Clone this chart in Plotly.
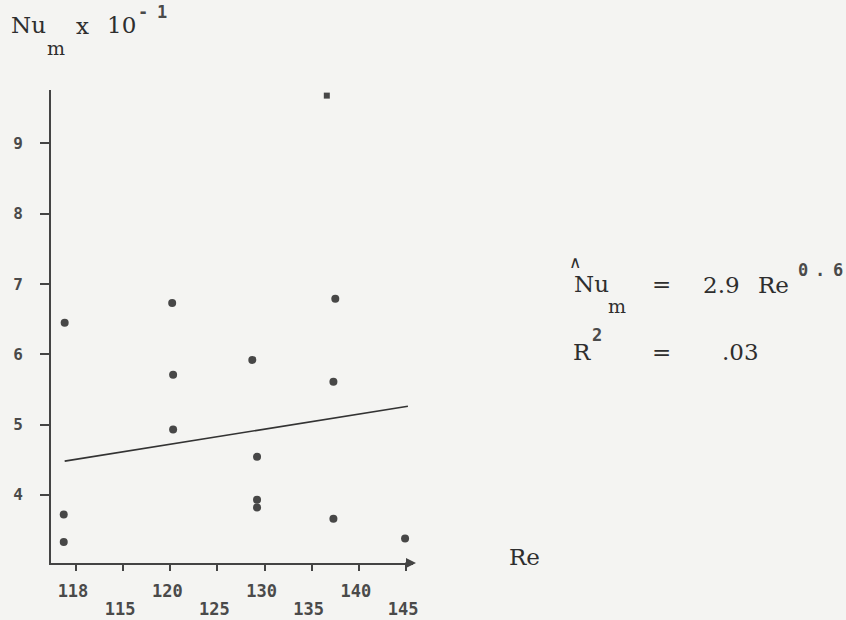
import plotly.graph_objects as go

# ---------------- data ----------------
re_points = [108.8, 108.7, 108.7, 120.2, 120.3, 120.3, 128.7, 129.2, 129.2, 129.2,
             137.5, 137.3, 137.3, 144.9]
nu_points = [6.45, 3.72, 3.33, 6.73, 5.71, 4.93, 5.92, 4.54, 3.93, 3.82,
             6.79, 5.61, 3.66, 3.38]
re_outlier = [136.6]
nu_outlier = [9.68]
fit_re = [108.8, 145.2]
fit_nu = [4.48, 5.26]
x_tick_values = [110, 115, 120, 125, 130, 135, 140, 145]
x_tick_labels = ["118", "115", "120", "125", "130", "135", "140", "145"]
y_tick_values = [4, 5, 6, 7, 8, 9]
y_tick_labels = ["4", "5", "6", "7", "8", "9"]

# ---------------- styling ----------------
BG = "#f4f4f2"
INK = "#2e2e2e"
DOT = "#4a4a4a"
AX = "#444444"
SERIF = "DejaVu Serif"
MONO = "DejaVu Sans Mono"

L, R, T, B = 51, 413, 90, 563  # plot area in pixels
W, H = 846, 620
X_RANGE = [107.35, 145.74]

lower_vals = x_tick_values[1::2]
lower_text = x_tick_labels[1::2]

fig = go.Figure()
fig.add_trace(go.Scatter(
    x=fit_re, y=fit_nu, mode="lines", xaxis="x2",
    line=dict(color="#333333", width=1.6), hoverinfo="skip", showlegend=False))
fig.add_trace(go.Scatter(
    x=re_points, y=nu_points, mode="markers",
    marker=dict(color="#474747", size=8, line=dict(width=0)), showlegend=False))
fig.add_trace(go.Scatter(
    x=re_outlier, y=nu_outlier, mode="markers",
    marker=dict(color="#474747", size=6, symbol="square", line=dict(width=0)),
    showlegend=False))


def px(xp):
    return (xp - L) / (R - L)


def py(yp):
    return (B - yp) / (B - T)


def txt(s, x, y, size, font=SERIF, color=INK, xanchor="left", weight="normal"):
    return dict(text=s, x=px(x), y=py(y), xref="paper", yref="paper",
                xanchor=xanchor, yanchor="middle", showarrow=False,
                font=dict(family=font, size=size, color=color, weight=weight))


ann = [
    # y-axis title
    txt("Nu", 9, 25, 23),
    txt("m", 45, 48, 19),
    txt("x", 74, 26, 23),
    txt("10", 105, 25, 23),
    txt("-", 143, 12, 17, MONO, DOT, "center", "bold"),
    txt("1", 162, 12, 17, MONO, DOT, "center", "bold"),
    # x-axis title
    txt("Re", 507, 557, 23),
    # regression equation
    txt("\u2227", 575, 262, 17, "DejaVu Sans", INK, "center"),
    txt("Nu", 572, 284, 23),
    txt("m", 606, 306, 19),
    txt("=", 661, 284, 23, SERIF, INK, "center"),
    txt("2.9", 701, 285, 23),
    txt("Re", 756, 285, 23),
    txt("0", 803, 270, 17, MONO, DOT, "center", "bold"),
    txt(".", 820, 270, 17, MONO, DOT, "center", "bold"),
    txt("6", 838, 270, 17, MONO, DOT, "center", "bold"),
    txt("R", 571, 352, 23),
    txt("2", 597, 335, 17, MONO, DOT, "center", "bold"),
    txt("=", 661, 352, 23, SERIF, INK, "center"),
    txt(".03", 720, 352, 23),
    # arrow head at the end of the x axis
    dict(x=px(R + 3), y=0, xref="paper", yref="paper", ax=-12, ay=0,
         text="", showarrow=True, arrowhead=2, arrowsize=1, arrowwidth=2,
         arrowcolor=AX),
]

tickfont = dict(family=MONO, size=17, color=DOT, weight="bold")

fig.update_layout(
    width=W, height=H, autosize=False,
    margin=dict(l=L, r=W - R, t=T, b=H - B, pad=0),
    paper_bgcolor=BG, plot_bgcolor=BG,
    annotations=ann,
    xaxis=dict(
        range=X_RANGE, showgrid=False, zeroline=False, automargin=False,
        showline=True, linecolor=AX, linewidth=2,
        tickmode="array", tickvals=x_tick_values,
        ticktext=[t if i % 2 == 0 else "" for i, t in enumerate(x_tick_labels)],
        ticks="outside", ticklen=6, tickwidth=2, tickcolor=AX,
        ticklabelstandoff=6, ticklabelshift=-3, tickfont=tickfont),
    xaxis2=dict(
        range=X_RANGE, overlaying="x", side="bottom", matches="x",
        showgrid=False, zeroline=False, automargin=False, showline=False,
        tickmode="array", tickvals=lower_vals, ticktext=lower_text,
        ticks="", ticklabelstandoff=34, ticklabelshift=-3, tickfont=tickfont),
    yaxis=dict(
        range=[3.03, 9.76], showgrid=False, zeroline=False, automargin=False,
        showline=True, linecolor=AX, linewidth=2,
        tickmode="array", tickvals=y_tick_values, ticktext=y_tick_labels,
        ticks="outside", ticklen=9, tickwidth=2, tickcolor=AX,
        ticklabelstandoff=14,
        tickfont=dict(family=MONO, size=16, color=DOT, weight="bold")),
)

fig.write_html("out.html", config={"displayModeBar": False},
               post_script="document.body.style.margin='0';document.body.style.background='%s';" % BG)
